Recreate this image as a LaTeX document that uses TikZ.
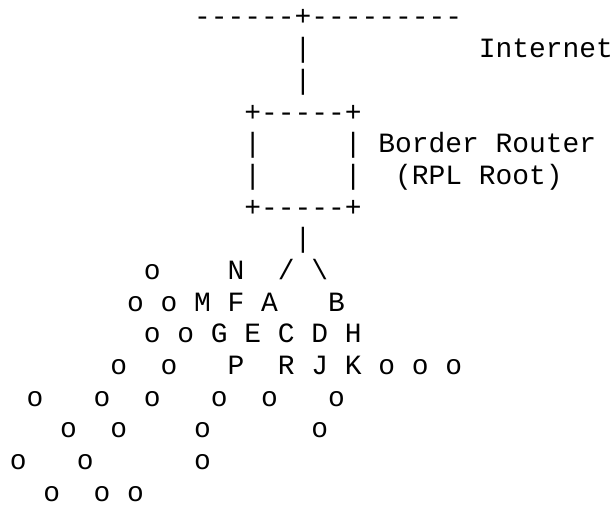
\documentclass[tikz,border=0pt]{standalone}
\usepackage{fontspec}
\setmonofont{Liberation Mono}
\begin{document}
\begin{tikzpicture}[x=12.5625pt,y=-23.75pt,
	every node/.style={inner sep=0,anchor=base west,
	font=\ttfamily\fontsize{20.93pt}{23.75pt}\selectfont}]
\useasboundingbox (-0.5746,-0.821) rectangle (36.02,15.188);
% uplink
\node (wan) at (11,0) {------+---------};
\node (up1) at (17,1) {|};
\node (internet) at (28,1) {Internet};
\node (up2) at (17,2) {|};
% border router box
\node (boxtop) at (14,3) {+-----+};
\node (boxl1) at (14,4) {|};
\node (boxr1) at (20,4) {|};
\node (brlabel) at (22,4) {Border Router};
\node (boxl2) at (14,5) {|};
\node (boxr2) at (20,5) {|};
\node (rootlabel) at (23,5) {(RPL Root)};
\node (boxbot) at (14,6) {+-----+};
\node (down) at (17,7) {|};
\node (lslash) at (16,8) {/};
\node (rslash) at (18,8) {\textbackslash};
% named routers
\foreach \n/\c/\r in {N/13/8, M/11/9, F/13/9, A/15/9, B/19/9,
	G/12/10, E/14/10, C/16/10, D/18/10, H/20/10,
	P/13/11, R/16/11, J/18/11, K/20/11}
	\node (\n) at (\c,\r) {\n};
% other nodes
\foreach \c/\r [count=\i] in {8/8, 7/9, 9/9, 8/10, 10/10,
	6/11, 9/11, 22/11, 24/11, 26/11,
	1/12, 5/12, 8/12, 12/12, 15/12, 19/12,
	3/13, 6/13, 11/13, 18/13,
	0/14, 4/14, 11/14,
	2/15, 5/15, 7/15}
	\node (o\i) at (\c,\r) {o};
\end{tikzpicture}
\end{document}
